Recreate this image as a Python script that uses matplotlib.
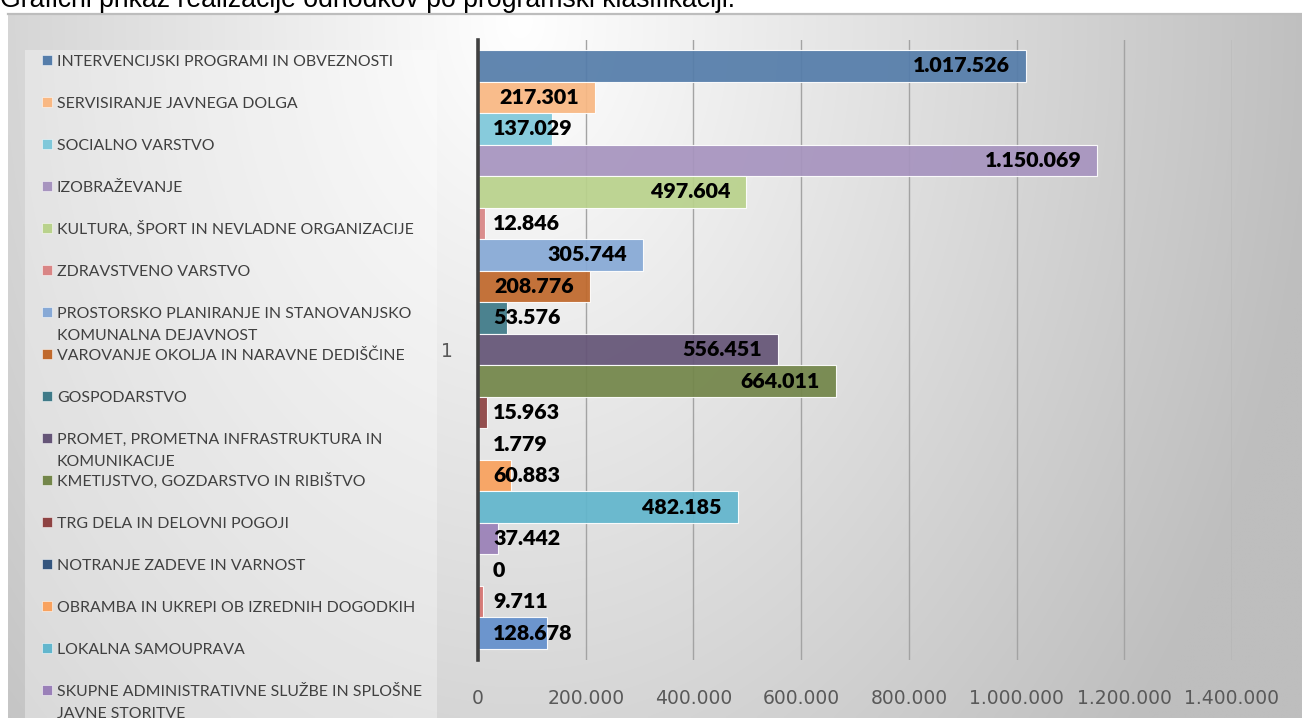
import matplotlib
matplotlib.use("Agg")
import matplotlib.pyplot as plt
import numpy as np
import textwrap
from matplotlib.patches import Rectangle
from matplotlib.lines import Line2D

# ---------------- data ----------------
title = "Grafični prikaz realizacije odhodkov po programski klasifikaciji."
categories = ["1"]
series_names = [
    "INTERVENCIJSKI PROGRAMI IN OBVEZNOSTI",
    "SERVISIRANJE JAVNEGA DOLGA",
    "SOCIALNO VARSTVO",
    "IZOBRAŽEVANJE",
    "KULTURA, ŠPORT IN NEVLADNE ORGANIZACIJE",
    "ZDRAVSTVENO VARSTVO",
    "PROSTORSKO PLANIRANJE IN STANOVANJSKO KOMUNALNA DEJAVNOST",
    "VAROVANJE OKOLJA IN NARAVNE DEDIŠČINE",
    "GOSPODARSTVO",
    "PROMET, PROMETNA INFRASTRUKTURA IN KOMUNIKACIJE",
    "KMETIJSTVO, GOZDARSTVO IN RIBIŠTVO",
    "TRG DELA IN DELOVNI POGOJI",
    "NOTRANJE ZADEVE IN VARNOST",
    "OBRAMBA IN UKREPI OB IZREDNIH DOGODKIH",
    "LOKALNA SAMOUPRAVA",
    "SKUPNE ADMINISTRATIVNE SLUŽBE IN SPLOŠNE JAVNE STORITVE",
    "ZUNANJA POLITIKA IN MEDNARODNA POMOČ",
    "EKONOMSKA IN FISKALNA ADMINISTRACIJA",
    "POLITIČNI SISTEM",
]
values = [1017526, 217301, 137029, 1150069, 497604, 12846, 305744, 208776,
          53576, 556451, 664011, 15963, 1779, 60883, 482185, 37442, 0, 9711,
          128678]
colors = ["#557DAA", "#F9B883", "#7FC8DA", "#A794BF", "#B9D28C", "#D98585",
          "#87A9D6", "#C0692C", "#3F7A88", "#655577", "#73864A", "#8E4343",
          "#34557E", "#F9A25E", "#62B6CD", "#9A80B8", "#9BBB59", "#D57370",
          "#6490CC"]
x_ticks = [0, 200000, 400000, 600000, 800000, 1000000, 1200000, 1400000]


def fmt(v):
    return f"{v:,}".replace(",", ".")


# ---------------- figure ----------------
W, H = 1302, 718
fig = plt.figure(figsize=(W / 100, H / 100), dpi=100)
fig.patch.set_facecolor("white")
renderer = fig.canvas.get_renderer()


def fx(x):
    return x / W


def fy(y):
    return 1 - y / H


def fit_size(text, target_px, **kw):
    t = fig.text(0, 0, text, fontsize=10, **kw)
    w = t.get_window_extent(renderer).width
    t.remove()
    return 10 * target_px / w


# background gradient (chart area)
top_px = 14
bg = fig.add_axes([fx(8), 0, 1 - fx(8), 1 - top_px / H])
bg.set_axis_off()
xs = np.linspace(8, W, 400)
ys = np.linspace(top_px, H, 250)
X, Y = np.meshgrid(xs, ys)
d = np.sqrt((X - 520) ** 2 + ((Y - 20) * 0.72) ** 2)
g = np.clip(255 - 0.081 * d, 190, 255) / 255.0
img = np.dstack([g, g, g])
bg.imshow(img, extent=[8, W, H, top_px], aspect="auto", interpolation="bilinear")
bg.set_xlim(8, W)
bg.set_ylim(H, top_px)

# top border line
fig.add_artist(Line2D([fx(8), 1], [fy(top_px), fy(top_px)], color="#bdbdbd",
                      lw=1.6, transform=fig.transFigure))

# title (cut at top, as in the original)
ts = fit_size(title, 738, family="Liberation Sans")
fig.text(0, fy(7), title, fontsize=ts, family="Liberation Sans",
         color="#000000", va="baseline", ha="left")

# legend box
fig.add_artist(Rectangle((fx(25), 0), fx(437) - fx(25), fy(50),
                         transform=fig.transFigure, facecolor="white",
                         alpha=0.35, edgecolor="none"))

# ---------------- main axes ----------------
ax_left, ax_right, ax_top, ax_bot = 478, 1232, 40, 660
ax = fig.add_axes([fx(ax_left), fy(ax_bot), fx(ax_right) - fx(ax_left),
                   (ax_bot - ax_top) / H])
ax.patch.set_alpha(0)
n = len(values)
ypos = np.arange(n)[::-1]
ax.barh(ypos, values, height=1.0, color=colors, alpha=0.93,
        edgecolor=(1, 1, 1, 0.55), linewidth=0.8, zorder=2)
ax.set_xlim(0, 1400000)
ax.set_ylim(-0.5 - 0.35, n - 0.5 + 0.317)
ax.set_xticks(x_ticks)
tick_size = fit_size("200.000", 77, family="DejaVu Sans")
ax.set_xticklabels([fmt(v) for v in x_ticks], fontsize=tick_size,
                   family="DejaVu Sans", color="#595959")
ax.tick_params(axis="x", length=0, pad=21)
ax.set_yticks([(n - 1) / 2])
ax.set_yticklabels(categories, fontsize=tick_size, family="DejaVu Sans",
                   color="#595959")
ax.tick_params(axis="y", length=0, pad=18)
ax.xaxis.grid(True, color="#a3a3a3", lw=1.0, zorder=0)
ax.set_axisbelow(True)
for s in ["top", "right", "bottom"]:
    ax.spines[s].set_visible(False)
ax.spines["left"].set_color("#404040")
ax.spines["left"].set_linewidth(2.6)
ax.spines["left"].set_zorder(5)

# value labels
ppu = (ax_right - ax_left) / 1400000.0
lab_kw = dict(family="Lato", weight="heavy")
lab_size = fit_size("1.017.526", 97, **lab_kw)
for yv, v in zip(ypos, values):
    s = fmt(v)
    t = ax.text(0, yv, s, fontsize=lab_size, color="black", ha="right",
                va="center", zorder=6, **lab_kw)
    w = t.get_window_extent(renderer).width
    right_px = max(v * ppu - 16, 15 + w)
    t.set_x(right_px / ppu)

# legend (manual, clipped by the figure edge like the original)
leg_size = fit_size(series_names[0], 332, family="Lato")
cap_px = 0.72 * leg_size * 100 / 72
for i, (name, c) in enumerate(zip(series_names, colors)):
    y0 = 60 + 42 * i
    fig.add_artist(Rectangle((fx(42), fy(y0 + 5)), 10 / W, 10 / H,
                             transform=fig.transFigure, facecolor=c,
                             edgecolor=(1, 1, 1, 0.6), lw=0.6))
    for j, line in enumerate(textwrap.wrap(name, 40)):
        fig.text(fx(57), fy(y0 + 22 * j + cap_px / 2), line, fontsize=leg_size,
                 family="Lato", color="#404040", va="baseline", ha="left")

fig.savefig("out.png", dpi=100, facecolor="white")
